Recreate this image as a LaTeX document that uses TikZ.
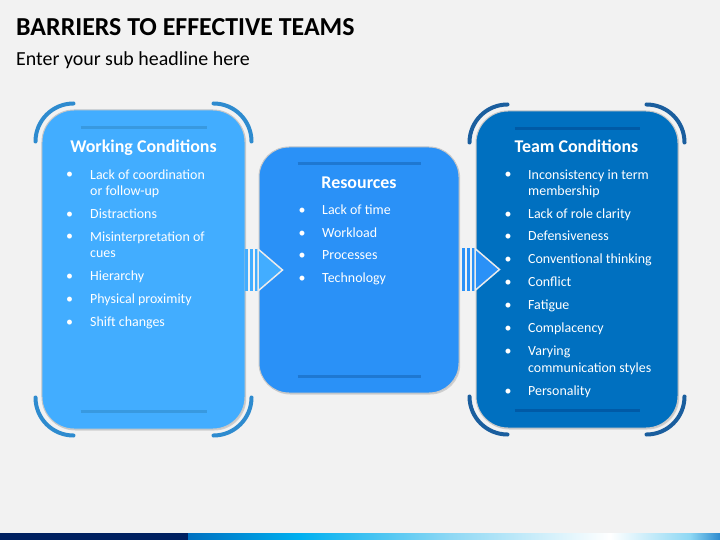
\documentclass[tikz,border=0pt]{standalone}
\usepackage{fontspec}
\setmainfont{Carlito}
\usetikzlibrary{calc,shadows}

\definecolor{bgc}{HTML}{F2F2F2}
\definecolor{workc}{HTML}{42ADFF}
\definecolor{resc}{HTML}{2A91F7}
\definecolor{teamc}{HTML}{0070C0}
\definecolor{workarc}{HTML}{2E8BCF}
\definecolor{teamarc}{HTML}{1A5E9E}
\definecolor{workrule}{HTML}{3899E0}
\definecolor{resrule}{HTML}{1E78D2}
\definecolor{teamrule}{HTML}{005AA6}
\definecolor{navy}{HTML}{002060}
\definecolor{skyc}{HTML}{00B0F0}
\definecolor{palec}{HTML}{8ED8F4}

\begin{document}
\begin{tikzpicture}[x=1bp,y=-1bp,
  box/.style={rectangle,draw=black!22,line width=1bp,inner sep=0pt,
    drop shadow={opacity=0.3,shadow xshift=1.2bp,shadow yshift=-1.5bp}},
  corner/.style={line width=4bp,line cap=round},
  rule/.style={line width=3.5bp},
  head/.style={font=\bfseries\fontsize{18}{21}\selectfont,text=white,anchor=base,inner sep=0pt},
  item/.style={font=\fontsize{14}{17}\selectfont,text=white,anchor=base west,align=left,inner sep=0pt},
  dot/.style={font=\fontsize{14}{17}\selectfont,text=white,anchor=base,inner sep=0pt}]
\useasboundingbox[fill=bgc] (0,0) rectangle (720,540);

% title
\node[anchor=base west,inner sep=0pt,font=\bfseries\fontsize{26}{30}\selectfont] (title) at (16,36) {BARRIERS TO EFFECTIVE TEAMS};
\node[anchor=base west,inner sep=0pt,font=\fontsize{20}{24}\selectfont] (sub) at (16,66) {Enter your sub headline here};

% boxes
\node[box,fill=workc,rounded corners=32bp,minimum width=203bp,minimum height=319bp] (work) at (143.5,269.5) {};
\node[box,fill=resc,rounded corners=30bp,minimum width=200bp,minimum height=246bp] (res) at (359,270) {};
\node[box,fill=teamc,rounded corners=32bp,minimum width=202bp,minimum height=317bp] (team) at (577,269.5) {};

% corner arcs
\foreach \n/\c in {work/workarc,team/teamarc}{
  \draw[corner,draw=\c] ($(\n.north west)+(-6,32)$) arc (180:270:38);
  \draw[corner,draw=\c] ($(\n.north east)+(6,32)$) arc (0:-90:38);
  \draw[corner,draw=\c] ($(\n.south west)+(-6,-32)$) arc (180:90:38);
  \draw[corner,draw=\c] ($(\n.south east)+(6,-32)$) arc (0:90:38);
}

% inner rules
\foreach \n/\c/\d in {work/workrule/18,res/resrule/17,team/teamrule/18}{
  \draw[rule,draw=\c] ($(\n.north west)+(39,\d)$) -- ($(\n.north east)+(-39,\d)$);
  \draw[rule,draw=\c] ($(\n.south west)+(39,-\d)$) -- ($(\n.south east)+(-39,-\d)$);
}

% arrows
\foreach \n/\c in {res/workc,team/resc}{
  \begin{scope}[shift={(\n.west)}]
  \foreach \bx in {-14,-9,-4}
    \fill[\c] (\bx,-21) rectangle ++(3.3,42);
  \filldraw[fill=\c,draw=black!8,line width=1.5bp] (-0.5,-21) -- (24,0) -- (-0.5,21) -- cycle;
  \end{scope}
}

% headings
\node[head] (workh) at (143.5,153) {Working Conditions};
\node[head] (resh) at (359,189) {Resources};
\node[head] (teamh) at (576.5,153) {Team Conditions};

% lists (y = first baseline, k = extra lines)
\foreach \t/\y/\k [count=\i] in {{Lack of coordination\\or follow-up}/179/1,Distractions/218.5/0,
    {Misinterpretation of\\cues}/241/1,Hierarchy/280.5/0,Physical proximity/303/0,Shift changes/326/0}{
  \node[dot] (wb\i) at (69.5,\y) {\textbullet};
  \node[item] (w\i) at (90,\y+17*\k) {\t};
}
\foreach \t/\y [count=\i] in {Lack of time/215,Workload/237.5,Processes/260,Technology/282.5}{
  \node[dot] (rb\i) at (302,\y) {\textbullet};
  \node[item] (r\i) at (322,\y) {\t};
}
\foreach \t/\y/\k [count=\i] in {{Inconsistency in term\\membership}/179/1,Lack of role clarity/218.5/0,
    Defensiveness/241/0,Conventional thinking/264/0,Conflict/286.5/0,Fatigue/309/0,Complacency/332/0,
    {Varying\\communication styles}/355/1,Personality/395/0}{
  \node[dot] (tb\i) at (508,\y) {\textbullet};
  \node[item] (t\i) at (528,\y+17*\k) {\t};
}

% bottom band
\fill[navy] (0,533) rectangle (188,540);
\shade[left color=teamc,right color=skyc] (188,533) rectangle (300,540);
\shade[left color=skyc,right color=palec] (300,533) rectangle (450,540);
\shade[left color=palec,right color=white] (450,533) rectangle (610,540);
\shade[left color=white,right color=palec] (610,533) rectangle (690,540);
\shade[left color=palec,right color=workarc] (690,533) rectangle (720,540);
\end{tikzpicture}
\end{document}
